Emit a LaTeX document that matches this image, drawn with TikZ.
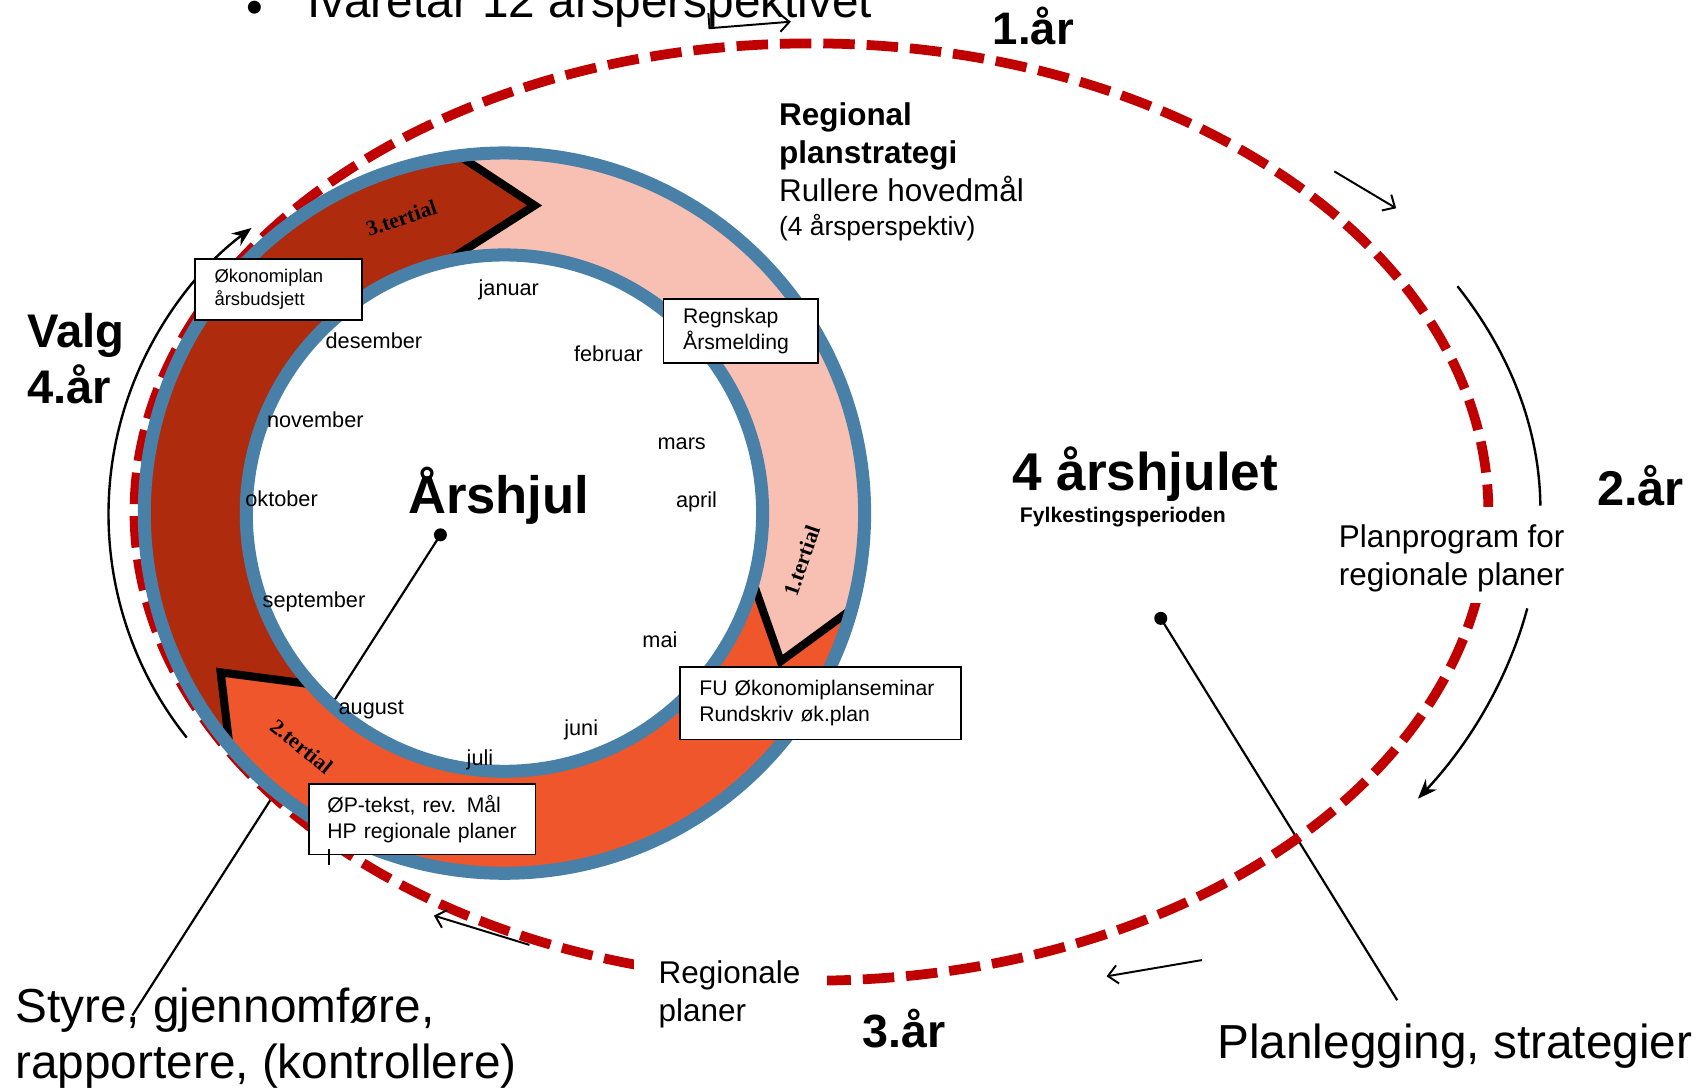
\documentclass[tikz,border=0pt]{standalone}
\usepackage{fontspec}
\setmainfont{Liberation Sans}
\newfontfamily\tserif{Liberation Serif}
\usetikzlibrary{arrows.meta}
\definecolor{ringblue}{RGB}{72,128,167}
\definecolor{pinkseg}{RGB}{248,192,178}
\definecolor{orangeseg}{RGB}{239,86,43}
\definecolor{darkseg}{RGB}{174,44,13}
\definecolor{dashred}{RGB}{192,0,0}
\newcommand{\fsz}[2]{\fontsize{#1pt}{#2pt}\selectfont}
\begin{document}
\begin{tikzpicture}[x=1pt,y=-1pt,
  txt/.style={anchor=base west, inner sep=0pt},
  month/.style={txt, font=\fsz{20}{24}},
  tert/.style={inner sep=0pt, font=\tserif\bfseries\fsz{20}{24}},
  box/.style={draw=black, line width=1.5pt, fill=white, anchor=north west, align=left, inner ysep=0pt, font=\fsz{19.5}{23.5}},
  thinarrow/.style={line width=1.8pt, -{Straight Barb[length=9pt,width=17pt]}},
  arcarrow/.style={line width=2.2pt, -{Stealth[length=18pt,width=14pt]}},
  pointer/.style={line width=2pt},
  dotnode/.style={circle, fill=black, inner sep=0pt, minimum size=12pt},
  chevron/.style={line width=7.5pt, black, line join=miter},
  ]
\useasboundingbox (0,0) rectangle (1568,1003);
\clip (0,0) rectangle (1568,1003);

% pointer lines
\node[dotnode] (hubdot) at (406,493) {};
\coordinate (styreend) at (122,936);
\node[dotnode] (fourdot) at (1070,570) {};
\coordinate (planend) at (1288,922);
\draw[pointer] (hubdot.center) -- (styreend);
\draw[pointer] (fourdot.center) -- (planend);

% dashed four-year ellipse
\draw[dashred, line width=9pt, dash pattern=on 29pt off 11pt] (748,472) ellipse[x radius=624, y radius=432];
\fill[white] (1348,467) rectangle (1396,556);
\fill[white] (584,876) rectangle (762,916);

% year wheel ring
\begin{scope}[shift={(465,473)}]
\fill[pinkseg] (-97.2:332) arc[start angle=-97.2, end angle=15.5, radius=332] -- (28.2:289) -- (15.6:238) arc[start angle=15.6, end angle=-102.9, radius=238] -- (-84.4:285) -- cycle;
\fill[orangeseg] (15.5:332) arc[start angle=15.5, end angle=139.8, radius=332] -- (150.7:300) -- (138.5:238) arc[start angle=138.5, end angle=15.6, radius=238] -- (28.2:289) -- cycle;
\fill[darkseg] (139.8:332) arc[start angle=139.8, end angle=262.8, radius=332] -- (275.6:285) -- (257.1:238) arc[start angle=257.1, end angle=138.5, radius=238] -- (150.7:300) -- cycle;
\draw[chevron] (-97.2:332) -- (-84.4:285) -- (-102.9:238);
\draw[chevron] (15.6:238) -- (28.2:289) -- (15.5:332);
\draw[chevron] (139.8:332) -- (150.7:300) -- (138.5:238);
\draw[ringblue, line width=12pt] (0,0) circle[radius=332];
\draw[ringblue, line width=12pt] (0,0) circle[radius=238];
\end{scope}

% curved arrows
\draw[arcarrow] (430,474) ++(141.4:330) arc[start angle=141.4, end angle=233.1, radius=330];
\draw[line width=2.2pt] (748,470) ++(-27.6:672 and 445) arc[start angle=-27.6, end angle=-0.5, x radius=672, y radius=445];
\draw[arcarrow] (748,470) ++(10.9:672 and 480) arc[start angle=10.9, end angle=33.7, x radius=672, y radius=480];

% small arrows
\coordinate (ta1) at (653,12); \coordinate (ta2) at (654,26); \coordinate (ta3) at (729,20);
\draw[thinarrow] (ta1) -- (ta2) -- (ta3);
\coordinate (ra1) at (1230,158); \coordinate (ra2) at (1287,192);
\draw[thinarrow] (ra1) -- (ra2);
\coordinate (ba1) at (1108,885); \coordinate (ba2) at (1020,900);
\draw[thinarrow] (ba1) -- (ba2);
\coordinate (la1) at (488,871); \coordinate (la2) at (400,844);
\draw[thinarrow] (la1) -- (la2);

% months
\node[month] (jan) at (441,272) {januar};
\node[month] (feb) at (529,333) {februar};
\node[month] (mar) at (606,414) {mars};
\node[month] (apr) at (623,468) {april};
\node[month] (mai) at (592,597) {mai};
\node[month] (jun) at (520,678) {juni};
\node[month] (jul) at (430,706) {juli};
\node[month] (aug) at (312,659) {august};
\node[month] (sep) at (242,560) {september};
\node[month] (okt) at (226,467) {oktober};
\node[month] (nov) at (246,394) {november};
\node[month] (des) at (300,321) {desember};

% tertial labels
\node[tert, rotate=18.5] (t3) at (370,201) {3.tertial};
\node[tert, rotate=71] (t1) at (739,517) {1.tertial};
\node[tert, rotate=-39] (t2) at (278,688) {2.tertial};

\node[txt, font=\bfseries\fsz{48.5}{58}] (arshjul) at (376,473) {Årshjul};

% boxes
\node[box, text width=118pt, inner xsep=18pt, minimum height=56pt, font=\fsz{17}{21}] (ecobox) at (179,238) {Økonomiplan\\årsbudsjett};
\node[box, text width=106pt, inner xsep=18pt, minimum height=59pt] (regnbox) at (611,275) {Regnskap\\Årsmelding};
\node[box, text width=223pt, inner xsep=18pt, minimum height=67pt] (fubox) at (626,614) {FU Økonomiplanseminar\\Rundskriv øk.plan};
\node[box, text width=175pt, inner xsep=17pt, minimum height=65pt] (opbox) at (284,722) {ØP-tekst, rev. Mål\\HP regionale planer};
\draw[line width=1.5pt] (303,783) -- (303,797);

% other texts
\node[txt, font=\fsz{44}{53}] (bullet) at (227,22) {•};
\node[txt, font=\fsz{44}{53}] (ivaretar) at (283,16) {Ivaretar 12 årsperspektivet};
\node[txt, font=\bfseries\fsz{42}{50}] (year1) at (915,41) {1.år};
\node[txt, font=\bfseries\fsz{29}{35}] (regional) at (718,116) {Regional};
\node[txt, font=\bfseries\fsz{29}{35}] (planstrat) at (718,151) {planstrategi};
\node[txt, font=\fsz{29}{35}] (rullere) at (718,186) {Rullere hovedmål};
\node[txt, font=\fsz{24.3}{29}] (perspektiv) at (718,217) {(4 årsperspektiv)};
\node[txt, font=\bfseries\fsz{43.5}{52}] (valg) at (25,320) {Valg};
\node[txt, font=\bfseries\fsz{43.5}{52}] (year4) at (25,372) {4.år};
\node[txt, font=\bfseries\fsz{49}{58}] (fouryear) at (933,452) {4 årshjulet};
\node[txt, font=\bfseries\fsz{19.5}{23}] (fylke) at (940,482) {Fylkestingsperioden};
\node[txt, font=\bfseries\fsz{45}{54}] (year2) at (1472,466) {2.år};
\node[txt, font=\fsz{29}{35}] (planprog1) at (1234,505) {Planprogram for};
\node[txt, font=\fsz{29}{35}] (planprog2) at (1234,540) {regionale planer};
\node[txt, font=\fsz{29}{35}] (regplan1) at (607,907) {Regionale};
\node[txt, font=\fsz{29}{35}] (regplan2) at (607,942) {planer};
\node[txt, font=\bfseries\fsz{43}{52}] (year3) at (795,966) {3.år};
\node[txt, font=\fsz{44}{53}] (styre1) at (14,943) {Styre, gjennomføre,};
\node[txt, font=\fsz{44}{53}] (styre2) at (14,994) {rapportere, (kontrollere)};
\node[txt, font=\fsz{44}{53}] (planlegging) at (1122,976) {Planlegging, strategier};
\end{tikzpicture}
\end{document}
